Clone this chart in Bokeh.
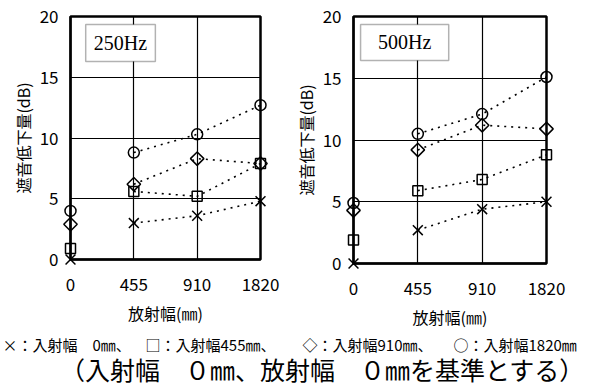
import numpy as np
from bokeh.plotting import figure
from bokeh.layouts import column, row
from bokeh.models import Range1d, FixedTicker, Label, BoxAnnotation
from bokeh.embed import file_html
from bokeh.resources import INLINE

# ---- data ----
x_labels = ["0", "455", "910", "1820"]
x_pos = [0, 1, 2, 3]
y_ticks = [0, 5, 10, 15, 20]

cross_250 = [0.0, 3.0, 3.6, 4.8]
square_250 = [0.9, 5.6, 5.2, 7.9]
diamond_250 = [2.9, 6.2, 8.3, 7.9]
circle_250 = [4.0, 8.8, 10.3, 12.7]

cross_500 = [0.0, 2.7, 4.4, 5.0]
square_500 = [1.9, 5.9, 6.8, 8.8]
diamond_500 = [4.3, 9.2, 11.2, 10.9]
circle_500 = [4.9, 10.5, 12.1, 15.1]

legend_items = ["×：入射幅　0㎜、", "□：入射幅455㎜、", "◇：入射幅910㎜、", "○：入射幅1820㎜"]
caption = "（入射幅　０㎜、放射幅　０㎜を基準とする）"
x_title = "放射幅(㎜)"
y_title = "遮音低下量(dB)"

FONT = "Noto Sans CJK JP"


def panel(title, cross, square, diamond, circle, fw, fh, bl, br, bt, bb, box, tick_so, lab_so):
    p = figure(frame_width=fw, frame_height=fh, x_range=Range1d(0, 3), y_range=Range1d(0, 20),
               output_backend="svg", toolbar_location=None,
               min_border_left=bl, min_border_right=br, min_border_top=bt, min_border_bottom=bb)
    p.background_fill_color = "white"
    p.border_fill_color = "white"
    p.outline_line_color = "black"
    p.outline_line_width = 2.5
    p.xaxis.ticker = FixedTicker(ticks=x_pos)
    p.xaxis.major_label_overrides = {i: s for i, s in zip(x_pos, x_labels)}
    p.yaxis.ticker = FixedTicker(ticks=y_ticks)
    p.xgrid.ticker = FixedTicker(ticks=[1, 2])
    p.ygrid.ticker = FixedTicker(ticks=[5, 10, 15])
    for g in (p.xgrid, p.ygrid):
        g.grid_line_color = "black"
        g.grid_line_width = 1.2
        g.grid_line_alpha = 1
    for ax in (p.xaxis, p.yaxis):
        ax.axis_line_color = "black"
        ax.axis_line_width = 2
        ax.major_tick_out = 0
        ax.major_tick_in = 0
        ax.minor_tick_out = 0
        ax.minor_tick_in = 0
        ax.major_label_text_font = FONT
        ax.major_label_text_font_size = "17px"
        ax.major_label_text_color = "black"
        ax.axis_label_text_font = FONT
        ax.axis_label_text_font_size = "16px"
        ax.axis_label_text_font_style = "normal"
        ax.axis_label_text_color = "black"
    p.xaxis.axis_label = x_title
    p.yaxis.axis_label = y_title
    p.xaxis.major_label_standoff = tick_so
    p.yaxis.major_label_standoff = 12
    p.xaxis.axis_label_standoff = lab_so
    p.yaxis.axis_label_standoff = 2

    # dotted connecting lines (455..1820)
    for ys in (cross, square, diamond, circle):
        p.line(x_pos[1:], ys[1:], line_color="black", line_width=1.6, line_dash="2 5")

    kw = dict(line_color="black", line_width=1.5, fill_alpha=0, level="overlay")
    p.scatter(x_pos, cross, marker="x", size=14, **kw)
    p.scatter(x_pos, square, marker="square", size=10, **kw)
    p.scatter(x_pos, diamond, marker="square", angle=np.pi / 4, size=9.5, **kw)
    p.scatter(x_pos, circle, marker="circle", size=11, **kw)

    l, r, t, b = box
    p.add_layout(BoxAnnotation(left=l, right=r, top=t, bottom=b, fill_color="white", fill_alpha=1,
                               line_color="black", line_width=1.5))
    p.add_layout(Label(x=(l + r) / 2, y=(t + b) / 2, text=title, text_align="center",
                       text_baseline="middle", text_font="Liberation Serif",
                       text_font_size="20px", text_color="black"))
    return p


p1 = panel("250Hz", cross_250, square_250, diamond_250, circle_250,
           190, 243, 70, 30, 15, 70, (0.24, 1.34, 19.34, 16.3), 18, 7)
p2 = panel("500Hz", cross_500, square_500, diamond_500, circle_500,
           193, 247, 61, 46, 16, 65, (0.11, 1.48, 19.35, 16.44), 18, 7)

p3 = figure(width=590, height=58, x_range=Range1d(0, 590), y_range=Range1d(0, 58),
            output_backend="svg", toolbar_location=None, min_border=0)
p3.axis.visible = False
p3.grid.visible = False
p3.outline_line_color = None
p3.background_fill_color = "white"
p3.border_fill_color = "white"
for xs, txt in zip([2, 145, 302, 453], legend_items):
    p3.add_layout(Label(x=xs, y=45, text=txt, text_align="left", text_baseline="middle",
                        text_font=FONT, text_font_size="15px", text_color="black"))
p3.add_layout(Label(x=322, y=21, text=caption, text_align="center", text_baseline="middle",
                    text_font=FONT, text_font_size="25px", text_color="black"))

layout = column(row(p1, p2), p3)
open("out.html", "w").write(file_html(layout, INLINE))
